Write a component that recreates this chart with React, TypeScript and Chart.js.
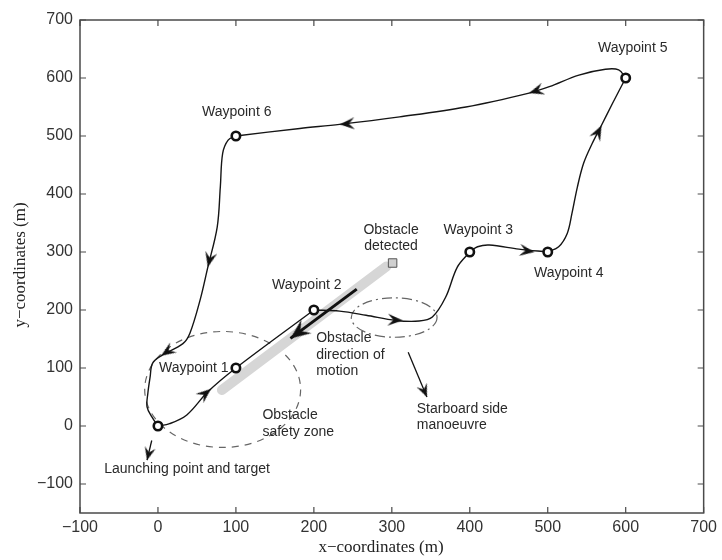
import { useEffect, useRef } from "react";
import { Chart, registerables } from "chart.js";

Chart.register(...registerables);

// ---- axes ----
const xTicks = [-100, 0, 100, 200, 300, 400, 500, 600, 700];
const yTicks = [-100, 0, 100, 200, 300, 400, 500, 600, 700];
const xMin = -100;
const xMax = 700;
const yMin = -150;
const yMax = 700;
const xTitle = "x\u2212coordinates (m)";
const yTitle = "y\u2212coordinates (m)";

// ---- waypoints (launch point first) ----
const waypointX = [0, 100, 200, 400, 500, 600, 100];
const waypointY = [0, 100, 200, 300, 300, 600, 500];

// ---- trajectory legs ----
const leg1X = [0, 15, 37, 64, 100, 200];
const leg1Y = [0, 4, 19, 59, 100, 200];
const leg2X = [200, 233, 267, 305, 335, 352, 369, 384, 400];
const leg2Y = [200, 198, 191, 182, 181, 188, 222, 274, 300];
const leg3X = [400, 410, 425, 463, 500];
const leg3Y = [300, 309, 312, 305, 300];
const leg4X = [500, 514, 525, 531, 538, 546, 557, 568, 583, 600];
const leg4Y = [300, 309, 332, 366, 412, 453, 487, 516, 556, 600];
const leg5X = [600, 591, 574, 540, 502, 476, 395, 310, 233, 182, 100];
const leg5Y = [600, 614, 615, 605, 585, 574, 550, 533, 520, 513, 500];
const leg6X = [100, 90, 83, 80, 76, 64, 54, 41, 32, 4, -7, -10, -13, -14, -8, 0];
const leg6Y = [500, 493, 470, 412, 343, 274, 217, 160, 142, 121, 108, 85, 56, 33, 16, 0];

// ---- direction arrowheads on the trajectory ----
const arrowX = [68, 314, 483, 569, 476, 233, 64, 4];
const arrowY = [64, 182, 300, 518, 574, 520, 274, 121];
const arrowAngle = [-40, 3, 8, -63, 163, 176, 103, 146];

// ---- obstacle ----
const obstacleTrackX = [82, 293];
const obstacleTrackY = [62, 275];
const obstacleBoxX = [301];
const obstacleBoxY = [281];
const motionX = [255, 170];
const motionY = [236, 151];
const motionAngle = [143];

// ---- annotation pointers ----
const launchPointerX = [-8, -14];
const launchPointerY = [-25, -59];
const launchPointerAngle = [104];
const starboardPointerX = [321, 345];
const starboardPointerY = [127, 50];
const starboardPointerAngle = [67];

// ---- zones (centre x, centre y, radius x, radius y) ----
const safetyZone = [83, 63, 100, 100];
const manoeuvreZone = [303, 187, 55, 34];

// ---- text labels ----
const labelText = [
  "Waypoint 1", "Waypoint 2", "Waypoint 3", "Waypoint 4", "Waypoint 5", "Waypoint 6",
  "Obstacle", "detected",
  "Obstacle", "direction of", "motion",
  "Obstacle", "safety zone",
  "Starboard side", "manoeuvre",
  "Launching point and target",
];
const labelX = [46, 191, 411, 527, 609, 101, 299, 299, 203, 203, 203, 134, 134, 332, 332, -69];
const labelY = [100, 243, 338, 264, 652, 541, 338, 310, 151, 122, 95, 19, -11, 29, 1, -75];
const labelAlign = [
  "center", "center", "center", "center", "center", "center",
  "center", "center",
  "left", "left", "left",
  "left", "left",
  "left", "left",
  "left",
];

const SANS = "'Liberation Sans', Arial, Helvetica, sans-serif";
const SERIF = "'Liberation Serif', 'Times New Roman', serif";

function pts(xs: number[], ys: number[]) {
  return xs.map((x, i) => ({ x, y: ys[i] }));
}

function makeArrow(w: number, h: number, color: string) {
  const c = document.createElement("canvas");
  c.width = 2 * w;
  c.height = h;
  const g = c.getContext("2d")!;
  g.fillStyle = color;
  g.beginPath();
  g.moveTo(w, h / 2);
  g.lineTo(0, 0);
  g.lineTo(w * 0.38, h / 2);
  g.lineTo(0, h);
  g.closePath();
  g.fill();
  return c;
}

export default function App() {
  const ref = useRef<HTMLCanvasElement | null>(null);

  useEffect(() => {
    const canvas = ref.current;
    if (!canvas) return;

    const smallArrow = makeArrow(15, 12, "#111");
    const bigArrow = makeArrow(20, 17, "#111");
    const pointerArrow = makeArrow(13, 11, "#111");

    const legStyle = {
      showLine: true,
      borderColor: "#151515",
      borderWidth: 1.4,
      pointRadius: 0,
      tension: 0.35,
      fill: false,
    };

    const overlay = {
      id: "overlay",
      beforeDatasetsDraw(chart: any) {
        const { ctx, scales, chartArea } = chart;
        const xs = scales.x;
        const ys = scales.y;
        ctx.save();
        ctx.beginPath();
        ctx.rect(chartArea.left, chartArea.top, chartArea.right - chartArea.left, chartArea.bottom - chartArea.top);
        ctx.clip();
        const drawEllipse = (z: number[], dash: number[]) => {
          const cx = xs.getPixelForValue(z[0]);
          const cy = ys.getPixelForValue(z[1]);
          const rx = Math.abs(xs.getPixelForValue(z[0] + z[2]) - cx);
          const ry = Math.abs(ys.getPixelForValue(z[1] + z[3]) - cy);
          ctx.beginPath();
          ctx.setLineDash(dash);
          ctx.strokeStyle = "#666";
          ctx.lineWidth = 1.2;
          ctx.ellipse(cx, cy, rx, ry, 0, 0, Math.PI * 2);
          ctx.stroke();
        };
        drawEllipse(safetyZone, [7, 6]);
        drawEllipse(manoeuvreZone, [10, 4, 2, 4]);
        ctx.restore();
      },
      afterDatasetsDraw(chart: any) {
        const { ctx, scales } = chart;
        ctx.save();
        ctx.font = `14px ${SANS}`;
        ctx.fillStyle = "#2a2a2a";
        ctx.textBaseline = "middle";
        labelText.forEach((t, i) => {
          ctx.textAlign = labelAlign[i] as CanvasTextAlign;
          ctx.fillText(t, scales.x.getPixelForValue(labelX[i]), scales.y.getPixelForValue(labelY[i]));
        });
        ctx.restore();
      },
      afterDraw(chart: any) {
        const { ctx, chartArea, scales } = chart;
        const { left, right, top, bottom } = chartArea;
        ctx.save();
        ctx.strokeStyle = "#4a4a4a";
        ctx.lineWidth = 1.5;
        ctx.setLineDash([]);
        ctx.strokeRect(left, top, right - left, bottom - top);
        ctx.lineWidth = 1.2;
        ctx.beginPath();
        xTicks.forEach((v) => {
          const px = scales.x.getPixelForValue(v);
          ctx.moveTo(px, bottom);
          ctx.lineTo(px, bottom - 6);
          ctx.moveTo(px, top);
          ctx.lineTo(px, top + 6);
        });
        yTicks.forEach((v) => {
          const py = scales.y.getPixelForValue(v);
          ctx.moveTo(left, py);
          ctx.lineTo(left + 6, py);
          ctx.moveTo(right, py);
          ctx.lineTo(right - 6, py);
        });
        ctx.stroke();
        // axis titles
        ctx.fillStyle = "#222";
        ctx.font = `17px ${SERIF}`;
        ctx.textAlign = "center";
        ctx.textBaseline = "middle";
        ctx.fillText(xTitle, 381, 548);
        ctx.translate(21, 265);
        ctx.rotate(-Math.PI / 2);
        ctx.fillText(yTitle, 0, 0);
        ctx.restore();
      },
    };

    const chart = new Chart(canvas, {
      type: "scatter",
      data: {
        datasets: [
          {
            label: "waypoints",
            data: pts(waypointX, waypointY),
            pointStyle: "circle",
            pointRadius: 4.2,
            borderWidth: 2.6,
            borderColor: "#111",
            backgroundColor: "#fff",
            showLine: false,
          },
          {
            label: "arrows",
            data: pts(arrowX, arrowY),
            pointStyle: smallArrow,
            pointRadius: 5,
            pointRotation: arrowAngle,
            showLine: false,
          },
          {
            label: "motion head",
            data: pts([motionX[1]], [motionY[1]]),
            pointStyle: bigArrow,
            pointRadius: 5,
            pointRotation: motionAngle,
            showLine: false,
          },
          {
            label: "launch head",
            data: pts([launchPointerX[1]], [launchPointerY[1]]),
            pointStyle: pointerArrow,
            pointRadius: 5,
            pointRotation: launchPointerAngle,
            showLine: false,
          },
          {
            label: "starboard head",
            data: pts([starboardPointerX[1]], [starboardPointerY[1]]),
            pointStyle: pointerArrow,
            pointRadius: 5,
            pointRotation: starboardPointerAngle,
            showLine: false,
          },
          {
            label: "obstacle",
            data: pts(obstacleBoxX, obstacleBoxY),
            pointStyle: "rect",
            pointRadius: 6,
            borderWidth: 1,
            borderColor: "#555",
            backgroundColor: "#d0d0d0",
            showLine: false,
          },
          { label: "leg1", data: pts(leg1X, leg1Y), ...legStyle },
          { label: "leg2", data: pts(leg2X, leg2Y), ...legStyle },
          { label: "leg3", data: pts(leg3X, leg3Y), ...legStyle },
          { label: "leg4", data: pts(leg4X, leg4Y), ...legStyle },
          { label: "leg5", data: pts(leg5X, leg5Y), ...legStyle },
          { label: "leg6", data: pts(leg6X, leg6Y), ...legStyle },
          {
            label: "motion",
            data: pts(motionX, motionY),
            showLine: true,
            borderColor: "#111",
            borderWidth: 3,
            pointRadius: 0,
          },
          {
            label: "launch pointer",
            data: pts(launchPointerX, launchPointerY),
            showLine: true,
            borderColor: "#111",
            borderWidth: 1.3,
            pointRadius: 0,
          },
          {
            label: "starboard pointer",
            data: pts(starboardPointerX, starboardPointerY),
            showLine: true,
            borderColor: "#111",
            borderWidth: 1.3,
            pointRadius: 0,
          },
          {
            label: "obstacle track",
            data: pts(obstacleTrackX, obstacleTrackY),
            showLine: true,
            borderColor: "#d6d6d6",
            borderWidth: 10,
            borderCapStyle: "round",
            pointRadius: 0,
          },
        ] as any,
      },
      options: {
        responsive: false,
        animation: false,
        events: [],
        layout: { padding: { top: 20, right: 17, left: 0, bottom: 0 } },
        plugins: {
          legend: { display: false },
          tooltip: { enabled: false },
          title: { display: false },
        },
        scales: {
          x: {
            type: "linear",
            min: xMin,
            max: xMax,
            afterBuildTicks: (s: any) => {
              s.ticks = xTicks.map((v) => ({ value: v }));
            },
            afterFit: (s: any) => {
              s.height = 47;
            },
            ticks: {
              font: { family: SANS, size: 16 },
              color: "#333",
              padding: 5,
              maxRotation: 0,
              autoSkip: false,
              callback: (v: any) => String(v).replace("-", "\u2212"),
            },
            grid: { display: false, drawTicks: false },
            border: { display: false },
          },
          y: {
            type: "linear",
            min: yMin,
            max: yMax,
            afterBuildTicks: (s: any) => {
              s.ticks = yTicks.map((v) => ({ value: v }));
            },
            afterFit: (s: any) => {
              s.width = 80;
            },
            ticks: {
              font: { family: SANS, size: 16 },
              color: "#333",
              padding: 7,
              autoSkip: false,
              callback: (v: any) => String(v).replace("-", "\u2212"),
            },
            grid: { display: false, drawTicks: false },
            border: { display: false },
          },
        },
      } as any,
      plugins: [overlay],
    });

    return () => chart.destroy();
  }, []);

  return (
    <div style={{ position: "fixed", left: 0, top: 0, width: 722, height: 560, background: "#fff" }}>
      <canvas ref={ref} width={722} height={560} style={{ display: "block", width: 722, height: 560 }} />
    </div>
  );
}
